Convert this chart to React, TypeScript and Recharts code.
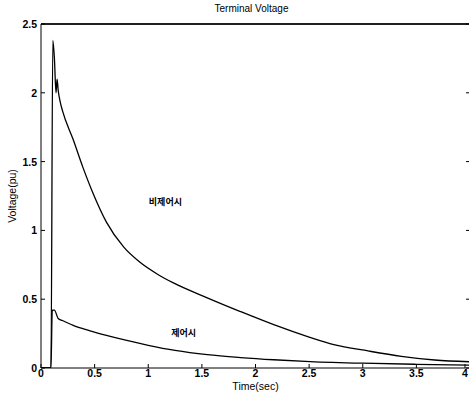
import { LineChart, Line, XAxis, YAxis, ReferenceDot, ReferenceLine } from "recharts";

// uncontrolled case (비제어시)
const uncontrolledTime = [0, 0.093, 0.11, 0.125, 0.14, 0.15, 0.16, 0.18, 0.2, 0.3, 0.39, 0.485, 0.61, 0.77, 0.92, 1.09, 1.23, 1.55, 1.86, 2.17, 2.5, 2.73, 3.05, 3.36, 3.67, 4];
const uncontrolledVoltage = [0, 0, 2.38, 2.25, 2.0, 2.1, 2.02, 1.93, 1.87, 1.66, 1.46, 1.27, 1.06, 0.88, 0.77, 0.68, 0.62, 0.51, 0.41, 0.315, 0.225, 0.17, 0.124, 0.085, 0.058, 0.045];

// controlled case (제어시)
const controlledTime = [0, 0.093, 0.105, 0.125, 0.16, 0.2, 0.3, 0.45, 0.61, 0.8, 1.0, 1.25, 1.55, 1.86, 2.17, 2.51, 3, 3.5, 4];
const controlledVoltage = [0, 0, 0.42, 0.42, 0.36, 0.345, 0.31, 0.272, 0.237, 0.2, 0.165, 0.128, 0.097, 0.076, 0.06, 0.047, 0.035, 0.027, 0.021];

const xTicks = [0, 0.5, 1, 1.5, 2, 2.5, 3, 3.5, 4];
const yTicks = [0, 0.5, 1, 1.5, 2, 2.5];

const uncontrolled = uncontrolledTime.map((t, i) => ({ t, v: uncontrolledVoltage[i] }));
const controlled = controlledTime.map((t, i) => ({ t, v: controlledVoltage[i] }));

const font = "'Liberation Sans', Arial, sans-serif";
const textStyle = { fontSize: 10.5, fill: "#000", fontFamily: font, fontWeight: 600 };
const noteStyle = { fontSize: 9, fill: "#000", fontFamily: "'Noto Sans CJK KR', sans-serif", fontWeight: 700 };

// matlab-style ticks that point into the plot
const BottomTick = (p: any) => (
  <g>
    <path d={`M${p.x},${p.y}v-4`} stroke="#000" strokeWidth={1} />
    <text x={p.x} y={p.y + 9} textAnchor="middle" style={textStyle}>{p.payload.value}</text>
  </g>
);
const TopTick = (p: any) => <path d={`M${p.x},${p.y}v4`} stroke="#000" strokeWidth={1} />;
const LeftTick = (p: any) => (
  <g>
    <path d={`M${p.x},${p.y}h4`} stroke="#000" strokeWidth={1} />
    <text x={p.x - 4} y={p.y + 4} textAnchor="end" style={textStyle}>{p.payload.value}</text>
  </g>
);
const RightTick = (p: any) => <path d={`M${p.x},${p.y}h-4`} stroke="#000" strokeWidth={1} />;

export default function App() {
  return (
    <div style={{ position: "absolute", left: 0, top: 0, width: 469, height: 401, background: "#fff" }}>
      <div style={{ position: "absolute", top: 2, left: 0, width: 469, textAlign: "center", paddingLeft: 34, boxSizing: "border-box", fontFamily: font, fontSize: 10, lineHeight: "14px" }}>
        Terminal Voltage
      </div>
      <LineChart width={469} height={401} margin={{ top: 23, right: -2, bottom: 0, left: 0 }}>
        <XAxis
          dataKey="t"
          type="number"
          domain={[0, 4]}
          ticks={xTicks}
          allowDataOverflow
          height={33}
          tick={BottomTick}
          tickLine={false}
          tickSize={0}
          tickMargin={0}
          stroke="#000"
          label={{ value: "Time(sec)", position: "insideBottom", offset: 11, style: { fontSize: 10.5, fill: "#000", fontFamily: font } }}
        />
        <XAxis
          xAxisId="top"
          orientation="top"
          type="number"
          domain={[0, 4]}
          ticks={xTicks}
          allowDataOverflow
          height={1}
          tick={TopTick}
          tickLine={false}
          tickSize={0}
          tickMargin={0}
          axisLine={{ stroke: "#000", strokeWidth: 1 }}
          stroke="#000"
        />
        <YAxis
          type="number"
          domain={[0, 2.5]}
          ticks={yTicks}
          allowDataOverflow
          width={41}
          tick={LeftTick}
          tickLine={false}
          tickSize={0}
          tickMargin={0}
          stroke="#000"
          label={{ value: "Voltage(pu)", angle: -90, position: "insideLeft", offset: 12, style: { fontSize: 10.5, fill: "#000", fontFamily: font, textAnchor: "middle" } }}
        />
        <YAxis
          yAxisId="right"
          orientation="right"
          type="number"
          domain={[0, 2.5]}
          ticks={yTicks}
          allowDataOverflow
          width={1}
          tick={RightTick}
          tickLine={false}
          tickSize={0}
          tickMargin={0}
          stroke="#000"
        />
        <ReferenceLine y={2.5} stroke="#000" strokeWidth={1.5} ifOverflow="visible" />
        <ReferenceLine x={4} stroke="#000" strokeWidth={1} ifOverflow="visible" />
        <Line data={uncontrolled} dataKey="v" type="monotone" stroke="#000" strokeWidth={1.3} dot={false} isAnimationActive={false} />
        <Line data={controlled} dataKey="v" type="monotone" stroke="#000" strokeWidth={1.3} dot={false} isAnimationActive={false} />
        <ReferenceDot x={1.16} y={1.21} r={0} fill="none" stroke="none" label={{ value: "비제어시", position: "center", style: noteStyle }} />
        <ReferenceDot x={1.33} y={0.255} r={0} fill="none" stroke="none" label={{ value: "제어시", position: "center", style: noteStyle }} />
      </LineChart>
    </div>
  );
}
